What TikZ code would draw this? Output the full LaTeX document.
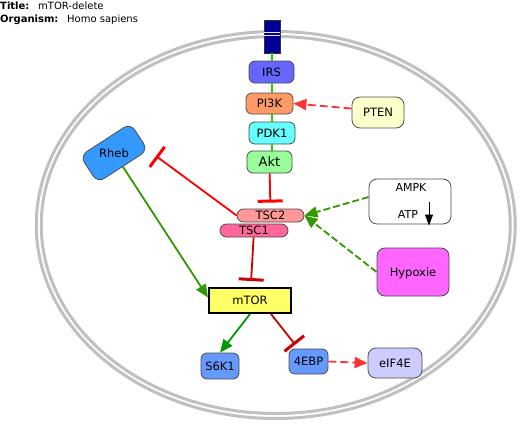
\documentclass[tikz,border=0pt]{standalone}
\usepackage{fontspec}
\setmainfont{DejaVu Sans}
\usetikzlibrary{arrows.meta}

\definecolor{membgray}{HTML}{C0C0C0}
\definecolor{recnavy}{HTML}{000099}
\definecolor{irscol}{HTML}{6666FF}
\definecolor{pikcol}{HTML}{FF9966}
\definecolor{pdkcol}{HTML}{66FFFF}
\definecolor{aktcol}{HTML}{99FF99}
\definecolor{ptencol}{HTML}{FFFFCC}
\definecolor{rhebcol}{HTML}{3399FF}
\definecolor{tsctwocol}{HTML}{FF9999}
\definecolor{tsconecol}{HTML}{FF6699}
\definecolor{mtorcol}{HTML}{FFFF66}
\definecolor{hypcol}{HTML}{FF66FF}
\definecolor{kincol}{HTML}{6699FF}
\definecolor{eifcol}{HTML}{CCCCFF}
\definecolor{chaingreen}{HTML}{33CC00}
\definecolor{actgreen}{HTML}{339900}
\definecolor{inhred}{HTML}{FF0000}
\definecolor{dashred}{HTML}{FF3333}
\definecolor{darkred}{HTML}{CC0000}

\begin{document}
\begin{tikzpicture}[x=1pt, y=-1pt,
	box/.style={draw=black!70, line width=0.8pt, rounded corners=6pt, inner sep=0pt, text height=8.4pt, text depth=0pt, font=\fontsize{11.5}{12}\selectfont},
	info/.style={anchor=base west, inner sep=0pt, font=\fontsize{10}{12}\selectfont},
	act/.style={-{Triangle[length=13pt,width=11pt]}, line width=1.8pt},
	inh/.style={-{Bar[width=25pt,line width=3pt]}, line width=1.8pt},
	chain/.style={chaingreen, line width=2.7pt},
	]
	\useasboundingbox (0,0) rectangle (532,436);

	\node[info, font=\fontsize{10}{12}\selectfont\bfseries] (titlekey) at (0,10) {Title:};
	\node[info] (titleval) at (38,10) {mTOR-delete};
	\node[info, font=\fontsize{10}{12}\selectfont\bfseries] (orgkey) at (0,23) {Organism:};
	\node[info] (orgval) at (67,23) {Homo sapiens};

	% cell membrane
	\draw[membgray, line width=3pt] (275.75,225) ellipse [x radius=239.5, y radius=193.5];
	\draw[membgray, line width=3pt] (275.75,225) ellipse [x radius=234.5, y radius=188.5];

	\node[draw=black!80, fill=recnavy, minimum width=16pt, minimum height=33pt, inner sep=0pt] (receptor) at (272,36.5) {};
	\draw[blue!10, line width=0.8pt] ([yshift=3.8pt]receptor.west) -- ([yshift=3.8pt]receptor.east);
	\draw[blue!10, line width=0.8pt] ([yshift=0.8pt]receptor.west) -- ([yshift=0.8pt]receptor.east);

	\node[box, fill=irscol, minimum width=45pt, minimum height=22pt] (irs) at (271.5,72) {IRS};
	\node[box, fill=pikcol, minimum width=47pt, minimum height=21pt] (pi3k) at (269.5,103.5) {PI3K};
	\node[box, fill=pdkcol, minimum width=46pt, minimum height=22pt] (pdk1) at (272,133) {PDK1};
	\node[box, fill=aktcol, minimum width=45pt, minimum height=22pt, text height=9.5pt, font=\fontsize{13}{14}\selectfont] (akt) at (269.5,162) {Akt};
	\node[box, fill=ptencol, minimum width=52pt, minimum height=31pt, rounded corners=8pt] (pten) at (378,112.5) {PTEN};

	\node[box, fill=rhebcol, minimum width=60pt, minimum height=32pt, rounded corners=8pt, rotate=33] (rheb) at (114,153) {};
	\node[inner sep=0pt, font=\fontsize{11.5}{12}\selectfont] (rheblabel) at (rheb) {Rheb};

	\node[box, fill=tsctwocol, minimum width=67pt, minimum height=13pt, rounded corners=6.5pt] (tsc2) at (270.5,215.5) {TSC2};
	\node[box, fill=tsconecol, minimum width=68pt, minimum height=13pt, rounded corners=6.5pt] (tsc1) at (254,230.5) {TSC1};

	\node[box, draw=black!70, fill=white, minimum width=82pt, minimum height=45pt, rounded corners=8pt] (ampk) at (410,201.5) {};
	\node[inner sep=0pt, font=\fontsize{11}{12}\selectfont] (ampklabel) at (411,187) {AMPK};
	\node[inner sep=0pt, font=\fontsize{11}{12}\selectfont] (atplabel) at (408,214) {ATP};
	\coordinate (atptop) at (429,202);
	\coordinate (atpbottom) at (429,225.5);

	\node[box, fill=hypcol, minimum width=72pt, minimum height=48pt, rounded corners=8pt] (hypoxie) at (413,272) {Hypoxie};

	\node[draw=black, line width=2pt, fill=mtorcol, minimum width=82pt, minimum height=25pt, inner sep=0pt, text height=8.4pt, text depth=0pt, font=\fontsize{11.5}{12}\selectfont] (mtor) at (250,300.5) {mTOR};

	\node[box, fill=kincol, minimum width=38pt, minimum height=26pt] (s6k1) at (220,366) {S6K1};
	\node[box, fill=kincol, minimum width=39pt, minimum height=25pt] (4ebp) at (308.5,361.5) {4EBP};
	\node[box, fill=eifcol, minimum width=54pt, minimum height=30pt, rounded corners=8pt] (eif4e) at (395,363) {eIF4E};

	% signalling chain
	\foreach \a/\b in {receptor/irs, irs/pi3k, pi3k/pdk1, pdk1/akt}
		\draw[chain] (\a.south -| receptor) -- (\b.north -| receptor);

	\coordinate (rhebstop) at (156,156);
	\draw[act, dashred, dash pattern=on 8pt off 4pt] ([yshift=4pt]pten.west) -- (pi3k.east);
	\draw[inh, inhred, shorten >=6pt] (akt) -- (tsc2);
	\draw[inh, inhred] (tsc2.west) -- (rhebstop);
	\draw[act, actgreen] (rheb) -- ([yshift=3pt]mtor.west);
	\draw[act, actgreen, dash pattern=on 7pt off 3pt] ([yshift=4.5pt]ampk.west) -- (tsc2.east);
	\draw[act, actgreen, dash pattern=on 7pt off 3pt] (hypoxie.west) -- (tsc2.east);
	\draw[-{Triangle[length=11pt,width=8pt]}, line width=1pt] (atptop) -- (atpbottom);
	\draw[inh, darkred, shorten >=6pt] (tsc1) -- (mtor);
	\draw[act, green!60!black] (mtor.south) -- (s6k1.north);
	\draw[inh, darkred, shorten >=5pt] ([xshift=21pt]mtor.south) -- (4ebp);
	\draw[act, dashred, dash pattern=on 8pt off 4pt] (4ebp.east) -- (eif4e.west);
\end{tikzpicture}
\end{document}
